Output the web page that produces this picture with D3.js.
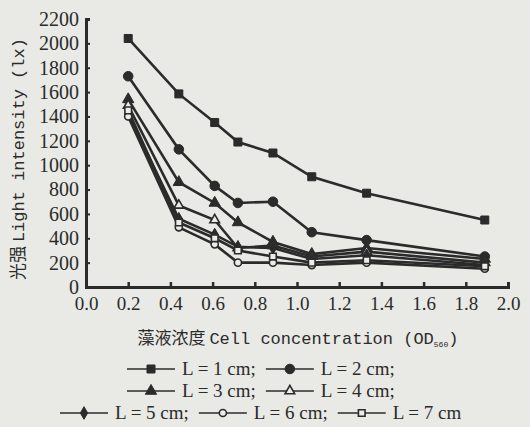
<!DOCTYPE html>
<html>
<head>
<meta charset="utf-8">
<script src="https://cdn.jsdelivr.net/npm/d3@7"></script>
<style>
body { margin: 0; background: #e9e9e5; }
svg { display: block; }
text { fill: #2b2b2b; }
.serif { font-family: "Liberation Serif", "Times New Roman", "DejaVu Serif", serif; }
.mono { font-family: "Liberation Mono", "Courier New", "DejaVu Sans Mono", monospace; }
.cjk { font-family: "Noto Sans CJK SC", sans-serif; }
</style>
</head>
<body>
<script>
const width = 530
const height = 427
const margin = { top: 19, right: 22, bottom: 140, left: 86 }
const innerWidth = width - margin.left - margin.right
const innerHeight = height - margin.top - margin.bottom
const ink = '#2b2b2b'

// cell concentration (OD560) at each measurement
const concentration = [0.2, 0.44, 0.61, 0.72, 0.886, 1.07, 1.33, 1.89]

const lengths = ['L = 1 cm', 'L = 2 cm', 'L = 3 cm', 'L = 4 cm', 'L = 5 cm', 'L = 6 cm', 'L = 7 cm']
const symbols = ['square', 'circle', 'triangle', 'triangle', 'diamond', 'circle', 'square']
const filled = [true, true, true, false, true, false, false]

const light1 = [2040, 1585, 1350, 1190, 1100, 905, 770, 550]
const light2 = [1730, 1130, 830, 690, 700, 450, 385, 250]
const light3 = [1540, 860, 690, 530, 370, 270, 320, 230]
const light4 = [1490, 670, 550, 320, 340, 250, 290, 200]
const light5 = [1420, 560, 430, 330, 320, 230, 260, 180]
const light6 = [1400, 490, 350, 200, 200, 180, 200, 150]
const light7 = [1450, 530, 400, 300, 250, 200, 220, 170]
const series = [light1, light2, light3, light4, light5, light6, light7]

const xTicks = [0, 0.2, 0.4, 0.6, 0.8, 1.0, 1.2, 1.4, 1.6, 1.8, 2.0]
const yTicks = [0, 200, 400, 600, 800, 1000, 1200, 1400, 1600, 1800, 2000, 2200]

// legend rows hold series indices
const legendRows = [[0, 1], [2, 3], [4, 5, 6]]

const xScale = d3.scaleLinear().domain([0, 2]).range([0, innerWidth])
const yScale = d3.scaleLinear().domain([0, 2200]).range([innerHeight, 0])

const svg = d3.select('body')
	.append('svg')
	.attr('width', width)
	.attr('height', height)

const g = svg.append('g')
	.attr('transform', `translate(${margin.left},${margin.top})`)

const symbolType = s => ({
	square: d3.symbolSquare,
	circle: d3.symbolCircle,
	triangle: d3.symbolTriangle,
	diamond: d3.symbolDiamond
})[s]

const symbolSize = (s, f) => {
	if (s === 'square') return f ? 64 : 44
	if (s === 'circle') return f ? 72 : 40
	if (s === 'triangle') return f ? 56 : 40
	return 46
}

const drawMarker = (sel, i) => {
	const s = symbols[i]
	sel.append('path')
		.attr('d', d3.symbol().type(symbolType(s)).size(symbolSize(s, filled[i]))())
		.attr('fill', filled[i] ? ink : '#ecece8')
		.attr('stroke', ink)
		.attr('stroke-width', filled[i] ? 1 : 1.6)
}

// x axis
const xAxis = d3.axisBottom(xScale)
	.tickValues(xTicks)
	.tickSize(-5)
	.tickPadding(10)
	.tickFormat(d3.format('.1f'))

g.append('g')
	.attr('transform', `translate(0,${innerHeight})`)
	.call(xAxis)
	.call(a => a.attr('font-family', null).attr('font-size', null))
	.call(a => a.select('.domain').attr('stroke', ink).attr('stroke-width', 3))
	.call(a => a.selectAll('.tick line').attr('stroke', ink).attr('stroke-width', 2.5))
	.call(a => a.selectAll('.tick text')
		.attr('class', 'serif')
		.attr('fill', ink)
		.style('font-size', '19px'))

// y axis
const yAxis = d3.axisLeft(yScale)
	.tickValues(yTicks)
	.tickSize(-4)
	.tickPadding(7)
	.tickFormat(d3.format('d'))

g.append('g')
	.call(yAxis)
	.call(a => a.attr('font-family', null).attr('font-size', null))
	.call(a => a.select('.domain').attr('stroke', ink).attr('stroke-width', 3))
	.call(a => a.selectAll('.tick line').attr('stroke', ink).attr('stroke-width', 2))
	.call(a => a.selectAll('.tick text')
		.attr('class', 'serif')
		.attr('fill', ink)
		.style('font-size', '20px'))

// y axis title
svg.append('text')
	.attr('transform', `translate(24,${margin.top + innerHeight / 2 + 6}) rotate(-90)`)
	.attr('text-anchor', 'middle')
	.style('font-size', '17px')
	.call(t => {
		t.append('tspan').attr('class', 'cjk').text('光强 ')
		t.append('tspan').attr('class', 'mono').text('Light intensity (lx)')
	})

// x axis title
svg.append('text')
	.attr('x', 298)
	.attr('y', 344)
	.attr('text-anchor', 'middle')
	.style('font-size', '17px')
	.call(t => {
		t.append('tspan').attr('class', 'cjk').text('藻液浓度 ')
		t.append('tspan').attr('class', 'mono').text('Cell concentration (OD')
		t.append('tspan').attr('class', 'mono')
			.style('font-size', '8px').attr('dy', 3).text('560')
		t.append('tspan').attr('class', 'mono')
			.attr('dy', -3).text(')')
	})

// lines
const line = d3.line()
	.x((d, j) => xScale(concentration[j]))
	.y(d => yScale(d))

g.selectAll('.series')
	.data(series)
	.enter()
	.append('path')
	.attr('class', 'series')
	.attr('d', d => line(d))
	.attr('fill', 'none')
	.attr('stroke', ink)
	.attr('stroke-width', 2.6)

// markers
series.forEach((vals, i) => {
	g.selectAll(`.m${i}`)
		.data(vals)
		.enter()
		.append('g')
		.attr('class', `m${i}`)
		.attr('transform', (d, j) => `translate(${xScale(concentration[j])},${yScale(d)})`)
		.each(function () { drawMarker(d3.select(this), i) })
})

// legend
const rowY = [369, 391, 413]
const rowX = [127, 127, 60]

legendRows.forEach((row, r) => {
	let x = rowX[r]
	row.forEach((i, k) => {
		const item = svg.append('g').attr('transform', `translate(${x},${rowY[r]})`)
		item.append('line')
			.attr('x1', 0).attr('x2', 48)
			.attr('stroke', ink).attr('stroke-width', 1.6)
		drawMarker(item.append('g').attr('transform', 'translate(24,0)'), i)
		const label = item.append('text')
			.attr('class', 'serif')
			.attr('x', 55)
			.attr('y', 6)
			.style('font-size', '19px')
			.text(lengths[i] + (r === 2 && k === row.length - 1 ? '' : ';'))
		x += 55 + label.node().getComputedTextLength() + 10
	})
})
</script>
</body>
</html>
